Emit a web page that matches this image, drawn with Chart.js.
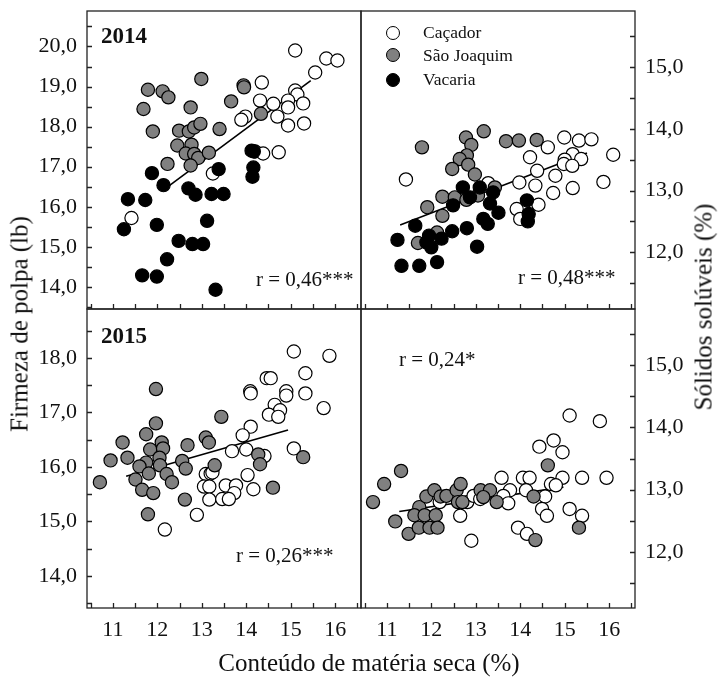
<!DOCTYPE html>
<html>
<head>
<meta charset="utf-8">
<script src="https://cdn.jsdelivr.net/npm/chart.js@4/dist/chart.umd.min.js"></script>
<style>
  body { margin: 0; background: #fff; }
  #wrap { position: relative; width: 723px; height: 677px; font-family: "Liberation Serif", "Times New Roman", serif; color: #111; }
  #wrap canvas { position: absolute; left: 0; top: 0; }
  .txt { position: absolute; white-space: nowrap; line-height: 1; }
  .rot { position: absolute; white-space: nowrap; line-height: 1; transform: translate(-50%, -50%) rotate(-90deg); }
  .dot { position: absolute; width: 14px; height: 14px; border: 1.2px solid #000; border-radius: 50%; box-sizing: border-box; }
</style>
</head>
<body>
<div id="wrap">
  <canvas id="firm2014" width="723" height="677"></canvas>
  <canvas id="brix2014" width="723" height="677"></canvas>
  <canvas id="firm2015" width="723" height="677"></canvas>
  <canvas id="brix2015" width="723" height="677"></canvas>

  <div class="txt" style="left:101px;top:24px;font-size:23px;font-weight:bold;">2014</div>
  <div class="txt" style="left:101px;top:324px;font-size:23px;font-weight:bold;">2015</div>

  <div class="txt" style="left:256px;top:269px;font-size:21px;">r = 0,46***</div>
  <div class="txt" style="left:518px;top:267px;font-size:21px;">r = 0,48***</div>
  <div class="txt" style="left:236px;top:545px;font-size:21px;">r = 0,26***</div>
  <div class="txt" style="left:399px;top:349px;font-size:21px;">r = 0,24*</div>

  <div class="dot" style="left:386px;top:26px;background:#fff;"></div>
  <div class="dot" style="left:386px;top:48px;background:#808080;"></div>
  <div class="dot" style="left:386px;top:73px;background:#000;"></div>
  <div class="txt" style="left:423px;top:24px;font-size:17.5px;">Caçador</div>
  <div class="txt" style="left:423px;top:47px;font-size:17.5px;">São Joaquim</div>
  <div class="txt" style="left:423px;top:71px;font-size:17.5px;">Vacaria</div>

  <div class="rot" style="left:19px;top:324px;font-size:25px;">Firmeza de polpa (lb)</div>
  <div class="rot" style="left:703px;top:307px;font-size:25px;">Sólidos solúveis (%)</div>
  <div class="txt" style="left:369px;top:650px;font-size:25px;transform:translateX(-50%);">Conteúdo de matéria seca (%)</div>
</div>

<script>
// dry matter (%) on x, firmness (lb) or soluble solids (%) on y
const xTickValues = [11, 12, 13, 14, 15, 16];
const firm2014Ticks = [14, 15, 16, 17, 18, 19, 20];
const firm2015Ticks = [14, 15, 16, 17, 18];
const brixTicks = [12, 13, 14, 15];

const firm2014Cacador = [[15.1,19.9],[15.8,19.7],[16.05,19.65],[15.55,19.35],[15.1,18.9],[15.15,18.8],[14.35,19.1],[14.31,18.65],[14.61,18.57],[14.94,18.65],[14.94,18.48],[15.28,18.58],[13.98,18.25],[13.89,18.17],[14.7,18.25],[14.94,18.03],[15.3,18.08],[14.2,17.38],[14.38,17.33],[14.73,17.36],[13.25,16.83],[11.42,15.72]];
const firm2014SaoJoaquim = [[11.79,18.92],[12.12,18.88],[12.25,18.73],[11.69,18.44],[12.99,19.19],[13.94,19.03],[13.95,18.98],[13.66,18.63],[12.75,18.48],[14.33,18.32],[11.9,17.88],[12.49,17.9],[12.71,17.88],[12.83,17.98],[12.97,18.07],[13.4,17.94],[12.45,17.53],[12.77,17.55],[12.64,17.33],[12.83,17.32],[12.92,17.22],[13.16,17.35],[12.23,17.07],[12.75,17.03]];
const firm2014Vacaria = [[14.12,17.4],[14.17,17.38],[14.16,16.98],[14.14,16.75],[13.38,16.94],[11.88,16.84],[12.14,16.54],[11.34,16.19],[11.73,16.17],[12.7,16.46],[12.86,16.3],[13.22,16.32],[13.49,16.32],[11.25,15.44],[11.99,15.55],[13.12,15.65],[12.48,15.15],[12.79,15.07],[13.03,15.07],[12.22,14.69],[11.66,14.29],[11.99,14.26],[13.31,13.93]];
const firm2014Fit = [[12.27,16.53],[15.45,19.15]];

const brix2014Cacador = [[11.43,13.18],[14.62,13.7],[14.99,13.86],[15.32,13.81],[15.6,13.83],[16.09,13.58],[14.22,13.54],[15.18,13.59],[15.0,13.5],[14.98,13.43],[15.37,13.51],[15.17,13.4],[14.38,13.32],[14.79,13.24],[15.87,13.14],[13.98,13.13],[14.34,13.08],[15.18,13.04],[14.74,12.96],[13.28,13.12],[13.92,12.7],[14.41,12.77],[14.0,12.54]];
const brix2014SaoJoaquim = [[11.79,13.7],[12.78,13.86],[13.18,13.96],[12.9,13.74],[12.8,13.57],[12.64,13.51],[12.83,13.42],[12.47,13.35],[12.98,13.26],[13.68,13.8],[13.97,13.81],[14.37,13.82],[12.25,12.9],[12.53,12.89],[11.91,12.73],[12.25,12.59],[11.7,12.15],[12.13,12.32],[12.79,12.85],[13.05,12.92],[13.43,13.05]];
const brix2014Vacaria = [[12.71,13.05],[13.09,13.05],[13.39,12.97],[12.87,12.89],[12.49,12.76],[13.32,12.79],[13.51,12.64],[13.17,12.54],[13.27,12.46],[14.15,12.84],[14.19,12.62],[14.17,12.5],[12.8,12.39],[12.47,12.34],[11.64,12.43],[11.24,12.2],[11.95,12.27],[12.0,12.08],[12.23,12.22],[11.89,12.16],[13.03,12.09],[11.33,11.78],[11.73,11.78],[12.13,11.84]];
const brix2014Fit = [[11.3,12.44],[15.5,13.61]];

const firm2015Cacador = [[15.07,18.12],[15.87,18.04],[15.33,17.72],[14.46,17.63],[14.55,17.63],[14.09,17.39],[14.1,17.35],[14.9,17.39],[14.9,17.31],[15.33,17.35],[15.74,17.08],[14.64,17.14],[14.76,17.04],[14.51,16.96],[14.72,16.92],[14.1,16.74],[13.92,16.58],[14.0,16.32],[13.68,16.29],[15.07,16.34],[14.41,16.2],[13.09,15.87],[13.2,15.88],[13.24,15.9],[13.05,15.64],[13.17,15.64],[13.54,15.66],[13.77,15.66],[13.73,15.52],[14.03,15.85],[14.16,15.59],[13.17,15.4],[13.46,15.41],[13.61,15.41],[12.89,15.12],[12.17,14.85]];
const firm2015SaoJoaquim = [[11.97,17.43],[11.97,16.8],[13.44,16.92],[11.75,16.6],[11.22,16.45],[12.1,16.45],[13.09,16.54],[13.16,16.45],[12.68,16.4],[11.84,16.32],[12.13,16.34],[10.95,16.12],[11.33,16.17],[11.75,16.08],[12.05,16.17],[11.6,16.01],[12.06,16.03],[12.56,16.11],[12.64,15.97],[13.29,16.03],[14.27,16.23],[14.31,16.05],[15.28,16.18],[11.81,15.88],[12.21,15.87],[12.33,15.72],[10.71,15.72],[11.51,15.77],[11.66,15.58],[11.91,15.52],[12.62,15.4],[14.6,15.62],[11.79,15.13]];
const firm2015Fit = [[11.3,15.83],[14.94,16.68]];

const brix2015Cacador = [[15.11,14.19],[15.79,14.1],[14.75,13.79],[14.43,13.69],[14.95,13.6],[13.58,13.19],[14.06,13.19],[14.21,13.19],[14.95,13.19],[15.39,13.19],[15.94,13.19],[14.69,13.09],[14.8,13.07],[13.77,12.99],[14.13,12.99],[13.62,12.9],[14.56,12.89],[13.73,12.78],[12.81,12.8],[12.65,12.58],[14.49,12.69],[14.6,12.58],[15.11,12.69],[15.39,12.58],[13.95,12.39],[14.15,12.29],[12.9,12.18],[12.95,12.9],[13.1,12.85],[12.19,12.8]];
const brix2015SaoJoaquim = [[11.32,13.3],[10.94,13.09],[10.69,12.8],[11.19,12.49],[11.49,12.29],[11.73,12.72],[11.62,12.59],[11.85,12.59],[12.1,12.59],[11.72,12.39],[11.96,12.39],[12.14,12.39],[11.89,12.89],[12.07,12.99],[12.21,12.89],[12.34,12.9],[12.57,12.99],[12.66,13.09],[12.6,12.8],[12.7,12.8],[13.11,12.99],[13.32,12.99],[13.17,12.88],[13.47,12.8],[14.3,12.89],[14.62,13.39],[14.34,12.19],[15.32,12.39]];
const brix2015Fit = [[11.28,12.65],[14.97,13.04]];

const W = 723, H = 677;
const X_MIN = 10.42, X_MAX = 16.58;
const Y_AXIS_W = 70, X_AXIS_H = 40;
const tickFont = { family: '"Liberation Serif", "Times New Roman", serif', size: 22 };

// half-unit tick positions inside [lo, hi]
function halfSteps(lo, hi) {
  const out = [];
  for (let k = Math.ceil(lo * 2); k <= Math.floor(hi * 2); k++) out.push(k / 2);
  return out;
}

// fixed axis sizes so the plot box lands exactly where the padding puts it
function fixSize(size) {
  return scale => {
    if (scale.isHorizontal()) scale.height = size; else scale.width = size;
    scale.paddingLeft = scale.paddingRight = scale.paddingTop = scale.paddingBottom = 0;
  };
}

// frame around the plot box and tick marks pointing inward
const framePlugin = {
  id: 'frame',
  afterDraw(chart) {
    const { ctx, chartArea: a, scales } = chart;
    ctx.save();
    ctx.strokeStyle = '#222';
    ctx.lineWidth = 1.3;
    ctx.beginPath();
    scales.x.ticks.forEach(t => {
      const px = Math.round(scales.x.getPixelForValue(t.value)) + 0.5;
      ctx.moveTo(px, a.bottom);
      ctx.lineTo(px, a.bottom - 5);
    });
    const left = scales.y.position === 'left';
    scales.y.ticks.forEach(t => {
      const py = Math.round(scales.y.getPixelForValue(t.value)) + 0.5;
      const x0 = left ? a.left : a.right;
      ctx.moveTo(x0, py);
      ctx.lineTo(left ? x0 + 5 : x0 - 5, py);
    });
    ctx.stroke();
    ctx.strokeRect(a.left, a.top, a.right - a.left, a.bottom - a.top);
    ctx.restore();
  }
};

const toXY = arr => arr.map(p => ({ x: p[0], y: p[1] }));

function siteSet(points, fill, order) {
  return {
    data: toXY(points),
    pointRadius: 6.6,
    pointBorderWidth: 1.2,
    pointBorderColor: '#000',
    pointBackgroundColor: fill,
    order: order
  };
}

function panel(id, box, yMin, yMax, yLabels, ySide, showX, sets, fit) {
  const datasets = [];
  if (sets.cacador) datasets.push(siteSet(sets.cacador, '#ffffff', 3));
  if (sets.saoJoaquim) datasets.push(siteSet(sets.saoJoaquim, '#808080', 2));
  if (sets.vacaria) datasets.push(siteSet(sets.vacaria, '#000000', 1));
  datasets.push({
    data: toXY(fit),
    showLine: true,
    borderColor: '#000',
    borderWidth: 1.6,
    pointRadius: 0,
    order: 9
  });

  const xH = showX ? X_AXIS_H : 0;
  const pad = {
    left: ySide === 'left' ? box[0] - Y_AXIS_W : box[0],
    right: ySide === 'right' ? W - box[2] - Y_AXIS_W : W - box[2],
    top: box[1],
    bottom: H - box[3] - xH
  };

  new Chart(document.getElementById(id), {
    type: 'scatter',
    data: { datasets },
    options: {
      responsive: false,
      animation: false,
      events: [],
      layout: { padding: pad },
      plugins: { legend: { display: false }, tooltip: { enabled: false } },
      scales: {
        x: {
          type: 'linear', min: X_MIN, max: X_MAX,
          grid: { display: false, drawTicks: false }, border: { display: false },
          afterBuildTicks: s => { s.ticks = halfSteps(X_MIN, X_MAX).map(v => ({ value: v })); },
          afterFit: fixSize(xH),
          ticks: {
            display: showX, autoSkip: false, maxRotation: 0, padding: 9,
            font: tickFont, color: '#111',
            callback: v => xTickValues.includes(v) ? String(v) : ''
          }
        },
        y: {
          type: 'linear', position: ySide, min: yMin, max: yMax,
          grid: { display: false, drawTicks: false }, border: { display: false },
          afterBuildTicks: s => { s.ticks = halfSteps(yMin, yMax).map(v => ({ value: v })); },
          afterFit: fixSize(Y_AXIS_W),
          ticks: {
            autoSkip: false, padding: 10, font: tickFont, color: '#111',
            callback: v => yLabels.includes(v) ? v.toFixed(1).replace('.', ',') : ''
          }
        }
      }
    },
    plugins: [framePlugin]
  });
}

panel('firm2014', [87, 11, 361, 309], 13.45, 20.885, firm2014Ticks, 'left', false,
  { cacador: firm2014Cacador, saoJoaquim: firm2014SaoJoaquim, vacaria: firm2014Vacaria }, firm2014Fit);
panel('brix2014', [361, 11, 635, 309], 11.08, 15.91, brixTicks, 'right', false,
  { cacador: brix2014Cacador, saoJoaquim: brix2014SaoJoaquim, vacaria: brix2014Vacaria }, brix2014Fit);
panel('firm2015', [87, 309, 361, 608], 13.41, 18.9, firm2015Ticks, 'left', true,
  { cacador: firm2015Cacador, saoJoaquim: firm2015SaoJoaquim }, firm2015Fit);
panel('brix2015', [361, 309, 635, 608], 11.1, 15.9, brixTicks, 'right', true,
  { cacador: brix2015Cacador, saoJoaquim: brix2015SaoJoaquim }, brix2015Fit);
</script>
</body>
</html>
